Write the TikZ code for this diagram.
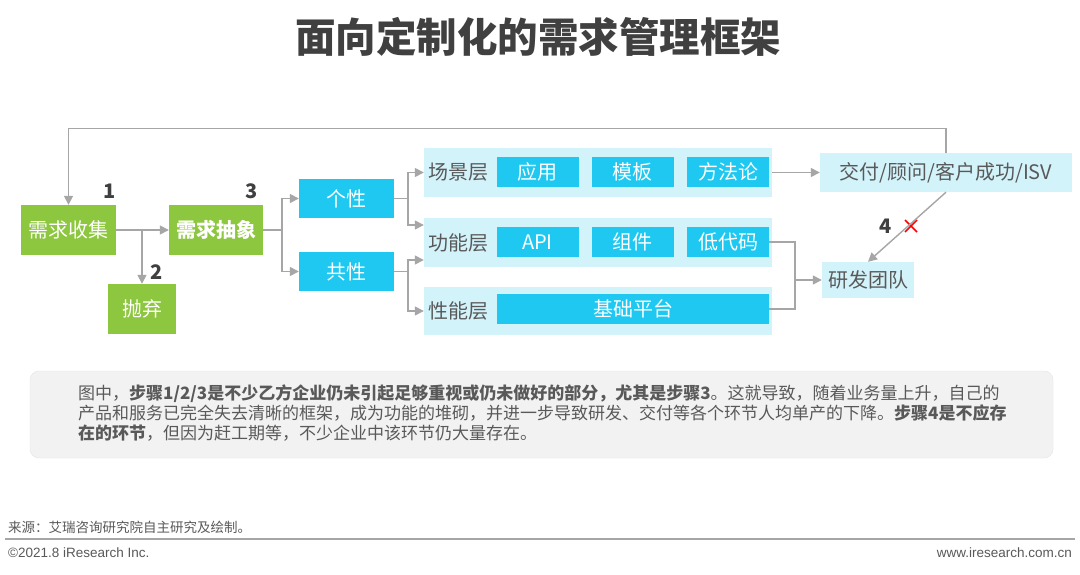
\documentclass[tikz,border=0pt]{standalone}
\usepackage{fontspec}
\setmainfont{Noto Sans CJK SC}
\setsansfont{Liberation Sans}
\usetikzlibrary{arrows.meta,calc}

\definecolor{cgreen}{HTML}{8DC63F}
\definecolor{ccyan}{HTML}{1EC8F0}
\definecolor{cpanel}{HTML}{D3F3FB}
\definecolor{cline}{HTML}{A6A6A6}
\definecolor{ctext}{HTML}{595959}
\definecolor{cdark}{HTML}{404040}
\definecolor{cnote}{HTML}{F2F2F2}

\tikzset{
  greenbox/.style={fill=cgreen, text=white, inner sep=0pt, minimum height=50pt,
    font=\fontsize{20}{20}\selectfont},
  cyanbox/.style={fill=ccyan, text=white, inner sep=0pt, minimum height=30pt,
    minimum width=82pt, font=\fontsize{20}{20}\selectfont},
  panel/.style={fill=cpanel, inner sep=0pt, minimum width=348pt, minimum height=49pt},
  lightbox/.style={fill=cpanel, text=ctext, inner sep=0pt, font=\fontsize{20}{20}\selectfont},
  layerlabel/.style={text=ctext, inner sep=0pt, font=\fontsize{20}{20}\selectfont},
  steplabel/.style={text=cdark, inner sep=0pt, font=\fontsize{20}{20}\selectfont\bfseries},
  conn/.style={draw=cline, line width=1.4pt},
  arr/.style={conn, -{Triangle[length=9pt,width=9pt]}},
}

\begin{document}
\begin{tikzpicture}[x=1pt, y=-1pt]
    \useasboundingbox[fill=white] (0,0) rectangle (1080,575);

    % title
    \node[text=cdark, font=\fontsize{40.5}{40.5}\selectfont\bfseries] (title) at (538,37) {面向定制化的需求管理框架};

    % left part
    \node[greenbox, minimum width=95pt] (collect) at (68.5,230) {需求收集};
    \node[greenbox, minimum width=68pt] (abandon) at (142,309) {抛弃};
    \node[greenbox, minimum width=94pt, font=\fontsize{20}{20}\selectfont\bfseries] (abstract) at (216,230) {需求抽象};
    \node[cyanbox, minimum width=95pt, minimum height=39pt] (indiv) at (346.5,198.5) {个性};
    \node[cyanbox, minimum width=95pt, minimum height=39pt] (common) at (346.5,271.5) {共性};

    \node[steplabel] (n1) at (110,191) {1};
    \node[steplabel] (n2) at (157,272) {2};
    \node[steplabel] (n3) at (252,191) {3};

    % layers
    \node[panel] (scene) at (598,172.5) {};
    \node[panel] (func) at (598,242.5) {};
    \node[panel, minimum height=48pt] (perf) at (598,311) {};

    \node[layerlabel] (lscene) at (458,172.5) {场景层};
    \node[layerlabel] (lfunc) at (458,242.5) {功能层};
    \node[layerlabel] (lperf) at (458,311) {性能层};

    \node[cyanbox] (app) at (537.5,172) {应用};
    \node[cyanbox] (tmpl) at (632.5,172) {模板};
    \node[cyanbox] (method) at (728,172) {方法论};
    \node[cyanbox] (api) at (537.5,242) {API};
    \node[cyanbox] (comp) at (632.5,242) {组件};
    \node[cyanbox] (lowcode) at (728,242) {低代码};
    \node[cyanbox, minimum width=272pt] (base) at (633,309) {基础平台};

    % right part
    \node[lightbox, minimum width=252pt, minimum height=39pt] (jf) at (946,172.5) {交付/顾问/客户成功/ISV};
    \node[lightbox, minimum width=92pt, minimum height=36pt] (rd) at (868,280) {研发团队};

    \node[steplabel] (n4) at (886,226) {4};
    \coordinate (cross) at (911,226);
    \draw[red, line width=1.6pt] ($(cross)+(-6,-6)$) -- ($(cross)+(6,6)$);
    \draw[red, line width=1.6pt] ($(cross)+(-6,6)$) -- ($(cross)+(6,-6)$);

    % connectors
    \draw[arr] (jf.north) -- ++(0,-24) -| (collect.north);
    \draw[arr] (collect) -- (abstract);
    \draw[arr] (abandon.north |- collect.east) -- (abandon.north);

    \coordinate (b2) at (282,230);
    \draw[conn] (abstract.east) -- (b2);
    \draw[arr] (b2) |- (indiv.west);
    \draw[arr] (b2) |- (common.west);

    \coordinate (b3) at (408,198.5);
    \draw[conn] (indiv.east) -- (b3);
    \draw[arr] (b3) |- (scene.west);
    \draw[arr] (b3) |- ([yshift=17.5pt]func.west);

    \coordinate (b4) at (408,271.5);
    \draw[conn] (common.east) -- (b4);
    \draw[arr] (b4) |- ([yshift=-17.5pt]func.west);
    \draw[arr] (b4) |- (perf.west);

    \draw[arr] (scene.east) -- (jf.west);
    \coordinate (merge) at (795,280);
    \draw[conn] (lowcode.east) -| (merge) |- (base.east);
    \draw[arr] (merge) -- (rd.west);
    \draw[arr] (jf.south) -- (rd.north);

    % note
    \node[fill=cnote, draw=black!10, rounded corners=9pt, minimum width=1023pt,
      minimum height=87pt, inner sep=0pt] (note) at (541.5,414.5) {};
    \node[anchor=north west, align=left, text=ctext, inner sep=0pt,
      font=\fontsize{17}{20}\selectfont] (notetext) at (78,384.5)
      {图中，\textbf{步骤1/2/3是不少乙方企业仍未引起足够重视或仍未做好的部分，尤其是步骤3}。这就导致，随着业务量上升，自己的\\
       产品和服务已完全失去清晰的框架，成为功能的堆砌，并进一步导致研发、交付等各个环节人均单产的下降。\textbf{步骤4是不应存}\\
       \textbf{在的环节}，但因为赶工期等，不少企业中该环节仍大量存在。};

    % footer
    \node[anchor=west, text=ctext, inner sep=0pt, font=\fontsize{13.5}{13.5}\selectfont] (source) at (8,527) {来源：艾瑞咨询研究院自主研究及绘制。};
    \coordinate (fl) at (5,539);
    \coordinate (fr) at (1075,539);
    \draw[draw=cline, line width=1.5pt] (fl) -- (fr);
    \node[anchor=west, text=ctext, inner sep=0pt, font=\sffamily\fontsize{13.5}{13.5}\selectfont] (copy) at (8,553) {©2021.8 iResearch Inc.};
    \node[anchor=east, text=ctext, inner sep=0pt, font=\sffamily\fontsize{13.5}{13.5}\selectfont] (web) at (1072,553) {www.iresearch.com.cn};
\end{tikzpicture}
\end{document}
